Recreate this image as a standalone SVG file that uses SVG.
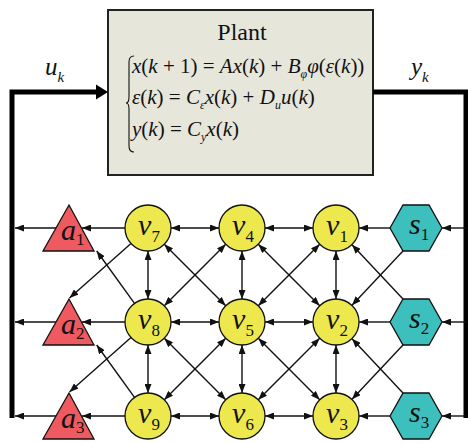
<svg xmlns="http://www.w3.org/2000/svg" width="468" height="443" viewBox="0 0 468 443">
<style>
text{font-family:"Liberation Serif","Times New Roman",Tinos,"Noto Serif","DejaVu Serif",Times,serif}
.t{fill:#111}
.i{font-style:italic}
.lbl{font-style:italic;font-size:30px;fill:#111}
.sub{font-style:normal;font-size:17px}
.c{fill:#ece84e;stroke:#111;stroke-width:1.3}
.tri{fill:#ee5a60;stroke:#111;stroke-width:1.3}
.hex{fill:#3cbfbd;stroke:#111;stroke-width:1.3}
.e{stroke:#111;stroke-width:1.4;fill:none;marker-end:url(#ah)}
.b{stroke:#111;stroke-width:1.4;fill:none;marker-end:url(#ah);marker-start:url(#ah)}
.thick{stroke:#000;stroke-width:5;fill:none}
</style>
<defs>
<marker id="ah" markerUnits="userSpaceOnUse" markerWidth="9" markerHeight="7" refX="9" refY="3.5" orient="auto-start-reverse">
<path d="M0,0 L9,3.5 L0,7 z" fill="#111"/>
</marker>
</defs>
<rect width="468" height="443" fill="#fff"/>

<g id="plant">
<rect x="108" y="10" width="265" height="165" fill="#e7e6db" stroke="#222" stroke-width="2"/>
<text class="t" x="242" y="40" font-size="24" text-anchor="middle">Plant</text>
<path d="M134,56 C130,56 129,58 129,62 L129,97 C129,101 128,103 126,103 C128,103 129,105 129,109 L129,146 C129,150 130,152 134,152" fill="none" stroke="#111" stroke-width="1.1"/>
<text class="t" x="132" y="73" font-size="21"><tspan class="i">x</tspan>(<tspan class="i">k</tspan> + 1) = <tspan class="i">Ax</tspan>(<tspan class="i">k</tspan>) + <tspan class="i">B</tspan><tspan class="i" font-size="12" dy="5">φ</tspan><tspan class="i" dy="-5">φ</tspan>(<tspan class="i">ε</tspan>(<tspan class="i">k</tspan>))</text>
<text class="t" x="132" y="104" font-size="21"><tspan class="i">ε</tspan>(<tspan class="i">k</tspan>) = <tspan class="i">C</tspan><tspan class="i" font-size="12" dy="5">ε</tspan><tspan class="i" dy="-5">x</tspan>(<tspan class="i">k</tspan>) + <tspan class="i">D</tspan><tspan class="i" font-size="12" dy="5">u</tspan><tspan class="i" dy="-5">u</tspan>(<tspan class="i">k</tspan>)</text>
<text class="t" x="132" y="136" font-size="21"><tspan class="i">y</tspan>(<tspan class="i">k</tspan>) = <tspan class="i">C</tspan><tspan class="i" font-size="12" dy="5">y</tspan><tspan class="i" dy="-5">x</tspan>(<tspan class="i">k</tspan>)</text>
</g>

<g id="loop">
<path class="thick" d="M12,418 L12,92 L98,92"/>
<polygon points="96,84.5 108,92 96,99.5" fill="#000"/>
<path class="thick" d="M373,92 L466,92 L466,418"/>
<text class="t i" x="45" y="75" font-size="25">u<tspan font-size="15" dy="7">k</tspan></text>
<text class="t i" x="411" y="75" font-size="25">y<tspan font-size="15" dy="7">k</tspan></text>
</g>

<g id="connectors">
<line class="e" x1="466" y1="228" x2="442" y2="228"/>
<line class="e" x1="466" y1="322" x2="442" y2="322"/>
<line class="e" x1="466" y1="416" x2="442" y2="416"/>
<line class="e" x1="390" y1="228" x2="359" y2="228"/>
<line class="e" x1="390" y1="322" x2="359" y2="322"/>
<line class="e" x1="390" y1="416" x2="359" y2="416"/>
<line class="e" x1="403" y1="251" x2="352" y2="305.3"/>
<line class="e" x1="403" y1="299" x2="352" y2="244.7"/>
<line class="e" x1="403" y1="345" x2="352" y2="399.3"/>
<line class="e" x1="403" y1="393" x2="352" y2="338.7"/>
<line class="b" x1="171" y1="228" x2="219" y2="228"/>
<line class="b" x1="265" y1="228" x2="313" y2="228"/>
<line class="b" x1="171" y1="322" x2="219" y2="322"/>
<line class="b" x1="265" y1="322" x2="313" y2="322"/>
<line class="b" x1="171" y1="416" x2="219" y2="416"/>
<line class="b" x1="265" y1="416" x2="313" y2="416"/>
<line class="b" x1="148" y1="251" x2="148" y2="299"/>
<line class="b" x1="148" y1="345" x2="148" y2="393"/>
<line class="b" x1="242" y1="251" x2="242" y2="299"/>
<line class="b" x1="242" y1="345" x2="242" y2="393"/>
<line class="b" x1="336" y1="251" x2="336" y2="299"/>
<line class="b" x1="336" y1="345" x2="336" y2="393"/>
<line class="b" x1="164.3" y1="244.3" x2="225.7" y2="305.7"/>
<line class="b" x1="225.7" y1="244.3" x2="164.3" y2="305.7"/>
<line class="b" x1="258.3" y1="244.3" x2="319.7" y2="305.7"/>
<line class="b" x1="319.7" y1="244.3" x2="258.3" y2="305.7"/>
<line class="b" x1="164.3" y1="338.3" x2="225.7" y2="399.7"/>
<line class="b" x1="225.7" y1="338.3" x2="164.3" y2="399.7"/>
<line class="b" x1="258.3" y1="338.3" x2="319.7" y2="399.7"/>
<line class="b" x1="319.7" y1="338.3" x2="258.3" y2="399.7"/>
<line class="e" x1="125" y1="228" x2="82" y2="228"/>
<line class="e" x1="125" y1="322" x2="82" y2="322"/>
<line class="e" x1="125" y1="416" x2="82" y2="416"/>
<line class="e" x1="131" y1="243.4" x2="69.5" y2="298"/>
<line class="e" x1="131" y1="337.4" x2="69.5" y2="392"/>
<line class="e" x1="134.5" y1="303.4" x2="96.7" y2="251"/>
<line class="e" x1="134.5" y1="397.4" x2="96.7" y2="345"/>
<line class="e" x1="57" y1="228" x2="15" y2="228"/>
<line class="e" x1="57" y1="322" x2="15" y2="322"/>
<line class="e" x1="57" y1="416" x2="15" y2="416"/>
</g>

<g id="a1"><polygon class="tri" points="69,205 43,251 94,251"/><text class="lbl" x="61" y="240">a<tspan class="sub" dy="5">1</tspan></text></g>
<g id="a2"><polygon class="tri" points="69,299 43,345 94,345"/><text class="lbl" x="61" y="334">a<tspan class="sub" dy="5">2</tspan></text></g>
<g id="a3"><polygon class="tri" points="69,393 43,439 94,439"/><text class="lbl" x="61" y="428">a<tspan class="sub" dy="5">3</tspan></text></g>

<g id="v7"><circle class="c" cx="148" cy="228" r="23"/><text class="lbl" x="149" y="235" text-anchor="middle">v<tspan class="sub" dy="7">7</tspan></text></g>
<g id="v4"><circle class="c" cx="242" cy="228" r="23"/><text class="lbl" x="243" y="235" text-anchor="middle">v<tspan class="sub" dy="7">4</tspan></text></g>
<g id="v1"><circle class="c" cx="336" cy="228" r="23"/><text class="lbl" x="337" y="235" text-anchor="middle">v<tspan class="sub" dy="7">1</tspan></text></g>
<g id="v8"><circle class="c" cx="148" cy="322" r="23"/><text class="lbl" x="149" y="329" text-anchor="middle">v<tspan class="sub" dy="7">8</tspan></text></g>
<g id="v5"><circle class="c" cx="242" cy="322" r="23"/><text class="lbl" x="243" y="329" text-anchor="middle">v<tspan class="sub" dy="7">5</tspan></text></g>
<g id="v2"><circle class="c" cx="336" cy="322" r="23"/><text class="lbl" x="337" y="329" text-anchor="middle">v<tspan class="sub" dy="7">2</tspan></text></g>
<g id="v9"><circle class="c" cx="148" cy="416" r="23"/><text class="lbl" x="149" y="423" text-anchor="middle">v<tspan class="sub" dy="7">9</tspan></text></g>
<g id="v6"><circle class="c" cx="242" cy="416" r="23"/><text class="lbl" x="243" y="423" text-anchor="middle">v<tspan class="sub" dy="7">6</tspan></text></g>
<g id="v3"><circle class="c" cx="336" cy="416" r="23"/><text class="lbl" x="337" y="423" text-anchor="middle">v<tspan class="sub" dy="7">3</tspan></text></g>

<g id="s1"><polygon class="hex" points="390,228 403,205 429,205 442,228 429,251 403,251"/><text class="lbl" x="409" y="234">s<tspan class="sub" dy="6">1</tspan></text></g>
<g id="s2"><polygon class="hex" points="390,322 403,299 429,299 442,322 429,345 403,345"/><text class="lbl" x="409" y="328">s<tspan class="sub" dy="6">2</tspan></text></g>
<g id="s3"><polygon class="hex" points="390,416 403,393 429,393 442,416 429,439 403,439"/><text class="lbl" x="409" y="422">s<tspan class="sub" dy="6">3</tspan></text></g>
</svg>
